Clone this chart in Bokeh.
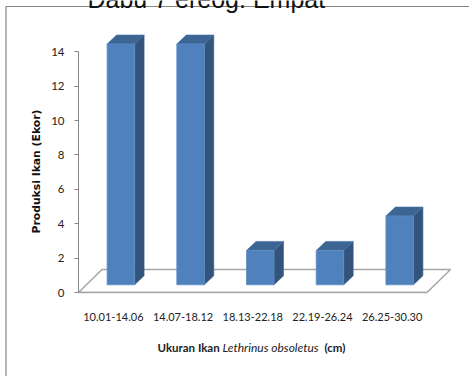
from bokeh.embed import file_html
from bokeh.resources import INLINE
from bokeh.plotting import figure
from bokeh.layouts import column
from bokeh.core.properties import value
from bokeh.models import FixedTicker

categories = ["10.01-14.06", "14.07-18.12", "18.13-22.18", "22.19-26.24", "26.25-30.30"]
values = [14, 14, 2, 2, 4]
y_ticks = [0, 2, 4, 6, 8, 10, 12, 14]
title_text = "Dabu 7 ereog. Empat"
x_title_parts = ["Ukuran Ikan", "Lethrinus obsoletus", "(cm)"]
y_title = "Produksi Ikan (Ekor)"

X0, Y0 = 78.0, 292.0
PX = 69.7
PY = 17.2
def X(px): return (px - X0) / PX
def Y(py): return (Y0 - py) / PY

dx, dy = 9.5 / PX, 9.0 / PY
fx, fy = 23.5 / PX, 23.0 / PY
base = 7.7 / PY
bar_w = 27.5 / PX
shift = 7.5 / PX
abs_pos = {"position": "absolute", "left": "0px", "top": "0px"}

p = figure(width=469, height=376, output_backend="svg", toolbar_location=None,
           x_range=(0, X(469)), y_range=(0, Y(0)), frame_align=False,
           min_border_left=78, min_border_right=0, min_border_top=0, min_border_bottom=84,
           background_fill_color="white", border_fill_color="white")
p.outline_line_color = None
p.grid.visible = False

n = len(categories)
p.patch([0, n, n + fx, fx], [0, 0, fy, fy], fill_color="white", line_color="#A6A6A6", line_width=1.5)

centers = [i + 0.5 + shift for i in range(n)]
lefts = [c - bar_w / 2 for c in centers]
rights = [c + bar_w / 2 for c in centers]
tops = [base + v for v in values]
bottoms = [base] * n

side_xs = [[r, r + dx, r + dx, r] for r in rights]
side_ys = [[b, b + dy, t + dy, t] for b, t in zip(bottoms, tops)]
top_xs = [[l, l + dx, r + dx, r] for l, r in zip(lefts, rights)]
top_ys = [[t, t + dy, t + dy, t] for t in tops]
p.patches(side_xs, side_ys, fill_color="#33547C", line_color="#3A5F8C", line_width=0.6)
p.patches(top_xs, top_ys, fill_color="#3D6594", line_color="#4471A5", line_width=0.6)
p.quad(left=lefts, right=rights, bottom=bottoms, top=tops, fill_color="#4F81BD", line_color="#5F8EC6", line_width=0.8)

ya = p.yaxis[0]
ya.ticker = FixedTicker(ticks=y_ticks)
ya.bounds = (0, 14)
ya.axis_line_color = "#868686"
ya.major_tick_line_color = "#868686"
ya.major_tick_out = 4
ya.major_tick_in = 0
ya.minor_tick_line_color = None
ya.major_label_standoff = 10
ya.major_label_text_font = "Lato"
ya.major_label_text_font_size = "11.5px"
ya.major_label_text_color = "#222222"

xa = p.xaxis[0]
xa.ticker = FixedTicker(ticks=[i + 0.5 for i in range(n)])
xa.major_label_overrides = {i + 0.5: c for i, c in enumerate(categories)}
xa.bounds = (0, n)
xa.axis_line_color = "#A6A6A6"
xa.axis_line_width = 1.5
xa.major_tick_line_color = None
xa.minor_tick_line_color = None
xa.major_label_standoff = 14
xa.major_label_text_font = "Lato"
xa.major_label_text_font_size = "11px"
xa.major_label_text_color = "#222222"

# transparent overlay in page pixels: chart border, title and axis titles
q = figure(width=469, height=376, output_backend="svg", toolbar_location=None,
           x_range=(0, 469), y_range=(376, 0), min_border=0, frame_align=False,
           background_fill_color=None, border_fill_color=None, styles=abs_pos)
q.axis.visible = False
q.grid.visible = False
q.outline_line_color = None

q.line([5.5, 5.5, 469], [376, 6, 6], line_color="#868686", line_width=1.2)

def text(px, py, s, font, size, style="normal", color="#222222", angle=0):
    q.text([px], [py], text=[s], text_font=value(font), text_font_size=value(size),
           text_font_style=style, text_color=color, angle=angle,
           text_baseline="alphabetic", text_align="left")

text(87, -2, title_text, "Liberation Sans", "25px", color="#111111")
text(157, 347, x_title_parts[0], "Lato", "11.5px", "bold")
text(222, 347, x_title_parts[1], "Lato", "12px", "italic")
text(324, 347, x_title_parts[2], "Lato", "11.5px", "bold")
text(36, 233, y_title, "DejaVu Sans", "10.8px", "bold", "#111111", 1.5708)

root = column(p, q, width=469, height=376, styles=abs_pos)
open("out.html", "w").write(file_html(root, INLINE))
